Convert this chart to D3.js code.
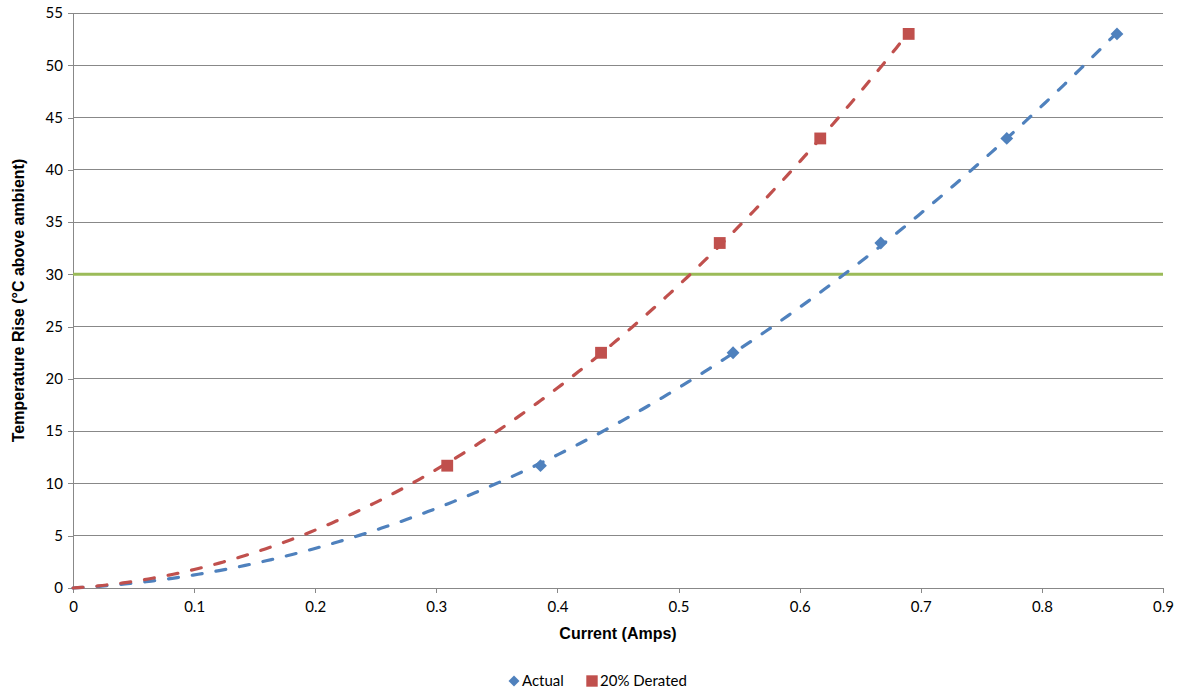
<!DOCTYPE html>
<html>
<head>
<meta charset="utf-8">
<script src="https://cdn.jsdelivr.net/npm/d3@7"></script>
<style>
  html, body { margin: 0; padding: 0; background: #fff; }
  svg { display: block; }
</style>
</head>
<body>
<svg id="chart" width="1181" height="690"></svg>
<script>
// ---- data ----
const actualX   = [0.386, 0.545, 0.667, 0.771, 0.862];
const actualY   = [11.7, 22.5, 33, 43, 53];
const deratedX  = [0.309, 0.436, 0.534, 0.617, 0.690];
const deratedY  = [11.7, 22.5, 33, 43, 53];
const limitY    = 30;
const xTicks    = [0, 0.1, 0.2, 0.3, 0.4, 0.5, 0.6, 0.7, 0.8, 0.9];
const yTicks    = [0, 5, 10, 15, 20, 25, 30, 35, 40, 45, 50, 55];
const seriesNames = ["Actual", "20% Derated"];

// ---- layout ----
const m = { left: 73, top: 13, right: 1163, bottom: 588 };
const svg = d3.select("#chart");

const x = d3.scaleLinear().domain([0, 0.9]).range([m.left, m.right]);
const y = d3.scaleLinear().domain([0, 55]).range([m.bottom, m.top]);

const tickFont = "Lato, 'Open Sans', sans-serif";
const boldFont = "'Liberation Sans', Arial, sans-serif";

// gridlines
svg.append("g")
  .selectAll("line").data(yTicks.filter(d => d > 0)).join("line")
  .attr("x1", m.left).attr("x2", m.right)
  .attr("y1", d => y(d)).attr("y2", d => y(d))
  .attr("stroke", "#888").attr("stroke-width", 1)
  .attr("shape-rendering", "crispEdges");

// axes
const yAxis = svg.append("g")
  .attr("transform", `translate(${m.left},0)`)
  .call(d3.axisLeft(y).tickValues(yTicks).tickSize(5).tickPadding(5).tickFormat(d3.format("d")));
const xAxis = svg.append("g")
  .attr("transform", `translate(0,${m.bottom})`)
  .call(d3.axisBottom(x).tickValues(xTicks).tickSize(5).tickPadding(8).tickFormat(d => d === 0 ? "0" : d3.format(".1f")(d)));

[yAxis, xAxis].forEach(g => {
  g.select(".domain").attr("stroke", "#888").attr("shape-rendering", "crispEdges");
  g.selectAll(".tick line").attr("stroke", "#888").attr("shape-rendering", "crispEdges");
  g.selectAll(".tick text").attr("fill", "#000").style("font-family", tickFont).style("font-size", "15px");
});

// 30°C limit line
svg.append("line")
  .attr("x1", m.left).attr("x2", m.right)
  .attr("y1", y(limitY)).attr("y2", y(limitY))
  .attr("stroke", "#9bbb59").attr("stroke-width", 3);

// quadratic trend through origin (least squares: y = a x^2 + b x)
function fitQuad(xs, ys) {
  let s4 = 0, s3 = 0, s2 = 0, sx2y = 0, sxy = 0;
  xs.forEach((xi, i) => {
    const yi = ys[i];
    s4 += xi ** 4; s3 += xi ** 3; s2 += xi ** 2;
    sx2y += xi * xi * yi; sxy += xi * yi;
  });
  const det = s4 * s2 - s3 * s3;
  const a = (sx2y * s2 - s3 * sxy) / det;
  const b = (s4 * sxy - s3 * sx2y) / det;
  return xv => a * xv * xv + b * xv;
}

const series = [
  { name: seriesNames[0], xs: actualX, ys: actualY, color: "#4f81bd", size: 82, rot: 45 },
  { name: seriesNames[1], xs: deratedX, ys: deratedY, color: "#c0504d", size: 140, rot: 0 }
];

const line = d3.line().x(d => x(d[0])).y(d => y(d[1]));

series.forEach(s => {
  const f = fitQuad(s.xs, s.ys);
  const xmax = d3.max(s.xs);
  const pts = d3.range(0, 201).map(i => { const xv = xmax * i / 200; return [xv, f(xv)]; });
  svg.append("path")
    .attr("d", line(pts))
    .attr("fill", "none")
    .attr("stroke", s.color)
    .attr("stroke-width", 3.2)
    .attr("stroke-linecap", "round")
    .attr("stroke-dasharray", "10,14");
});

series.forEach(s => {
  svg.append("g").selectAll("path").data(s.xs.map((xv, i) => [xv, s.ys[i]])).join("path")
    .attr("transform", d => `translate(${x(d[0])},${y(d[1])}) rotate(${s.rot})`)
    .attr("d", d3.symbol().type(d3.symbolSquare).size(s.size))
    .attr("fill", s.color);
});

// axis titles
svg.append("text")
  .attr("x", (m.left + m.right) / 2).attr("y", 639)
  .attr("text-anchor", "middle")
  .style("font-family", boldFont).style("font-size", "16px").style("font-weight", "bold")
  .text("Current (Amps)");

svg.append("text")
  .attr("transform", `translate(24,${(m.top + m.bottom) / 2}) rotate(-90)`)
  .attr("text-anchor", "middle")
  .style("font-family", boldFont).style("font-size", "16px").style("font-weight", "bold")
  .text("Temperature Rise (°C above ambient)");

// legend
const legend = svg.append("g");
const legendItems = [
  { name: seriesNames[0], color: series[0].color, size: 60, rot: 45, cx: 514, tx: 522 },
  { name: seriesNames[1], color: series[1].color, size: 130, rot: 0, cx: 592, tx: 600 }
];
legendItems.forEach(it => {
  legend.append("path")
    .attr("transform", `translate(${it.cx},681) rotate(${it.rot})`)
    .attr("d", d3.symbol().type(d3.symbolSquare).size(it.size))
    .attr("fill", it.color);
  legend.append("text")
    .attr("x", it.tx).attr("y", 686)
    .style("font-family", tickFont).style("font-size", "15px")
    .text(it.name);
});
</script>
</body>
</html>
